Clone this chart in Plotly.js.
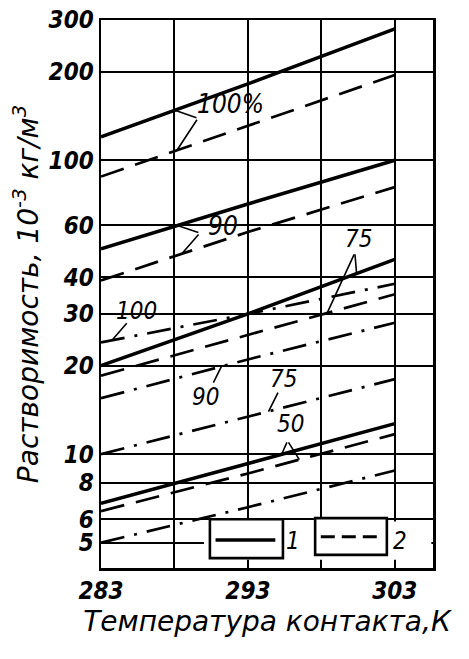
<!DOCTYPE html>
<html>
<head>
<meta charset="utf-8">
<script src="https://cdn.plot.ly/plotly-3.0.1.min.js"></script>
<style>html,body{margin:0;padding:0;background:#fff}#chart{width:469px;height:659px}</style>
</head>
<body>
<div id="chart"></div>
<script>
// Temperature of contact, K
const temps = [283, 293, 303];
// Curve family 1 (solid)
const sol100 = [120, 182, 280];
const sol90  = [50, 71, 100];
const sol75  = [20, 30, 46];
const sol50  = [6.8, 9.3, 12.7];
// Curve family 2 (dashed)
const dsh100 = [88, 131, 195];
const dsh90  = [39, 57, 81];
const dsh75  = [18.5, 25.5, 35];
const dsh50  = [6.4, 8.6, 11.7];
// Dash-dot curves
const dd100 = [24, 30, 38];
const dd90  = [15.5, 21, 28];
const dd75  = [10, 13.4, 18];
const dd50  = [5, 6.6, 8.8];

const xTickVals = [283, 293, 303];
const xTickText = ['283', '293', '303'];
const xMinorVals = [288, 298];
const yTickVals = [5, 6, 8, 10, 20, 30, 40, 60, 100, 200, 300];
const yTickText = ['5', '6', '8', '10', '20', '30', '40', '60', '100', '200', '300'];

const lg = Math.log10;
function onLine(series, t) {
  for (let i = 0; i < temps.length - 1; i++) {
    if (t <= temps[i + 1] || i === temps.length - 2) {
      const f = (t - temps[i]) / (temps[i + 1] - temps[i]);
      return lg(series[i]) + f * (lg(series[i + 1]) - lg(series[i]));
    }
  }
}

const SOLID = {color: 'black', width: 3.5};
const DASH = {color: 'black', width: 2.7, dash: '24px,12px'};
const DDOT = {color: 'black', width: 2.7, dash: '24px,10px,3px,10px'};

function tr(y, line, name) {
  return {x: temps, y: y, mode: 'lines', line: line, name: name, showlegend: false, hoverinfo: 'skip'};
}
const data = [
  tr(sol100, SOLID, '1: 100%'), tr(sol90, SOLID, '1: 90'), tr(sol75, SOLID, '1: 75'), tr(sol50, SOLID, '1: 50'),
  tr(dsh100, DASH, '2: 100%'), tr(dsh90, DASH, '2: 90'), tr(dsh75, DASH, '2: 75'), tr(dsh50, DASH, '2: 50'),
  tr(dd100, DDOT, '100'), tr(dd90, DDOT, '90'), tr(dd75, DDOT, '75'), tr(dd50, DDOT, '50')
];

const labFont = {family: 'DejaVu Sans Condensed', size: 24, color: 'black', style: 'italic'};
function label(t, v, text, size) {
  return {x: t, y: lg(v), xref: 'x', yref: 'y', text: text, showarrow: false,
          xanchor: 'center', yanchor: 'middle',
          font: Object.assign({}, labFont, size ? {size: size} : {})};
}
function ptr(series, t, vt, vv) {
  return {x: t, y: onLine(series, t), xref: 'x', yref: 'y', axref: 'x', ayref: 'y',
          ax: vt, ay: lg(vv), text: '', showarrow: true, arrowhead: 0, arrowwidth: 1.6, arrowcolor: 'black'};
}

const annotations = [
  label(291.8, 155, '100%', 26),
  ptr(sol100, 288.03, 289.6, 139), ptr(dsh100, 288.17, 289.6, 139),
  label(291.3, 59.8, '90', 26),
  ptr(sol90, 288.2, 289.73, 56.6), ptr(dsh90, 288.5, 289.73, 56.6),
  label(300.5, 54, '75'),
  ptr(sol75, 300.4, 300.28, 48.4), ptr(dsh75, 298.4, 300.28, 48.4),
  label(285.45, 30.7, '100'),
  ptr(dd100, 283.75, 284.84, 28.2),
  label(290.1, 15.7, '90'),
  ptr(dd90, 291.2, 290.6, 17.3),
  label(295.4, 18.0, '75'),
  ptr(dd75, 294.4, 295.1, 16.4),
  label(295.9, 12.7, '50'),
  ptr(sol50, 295.3, 295.7, 11.1), ptr(dsh50, 296.5, 295.7, 11.1),
  // legend labels
  {x: 0.577, y: 0.05, xref: 'paper', yref: 'paper', xanchor: 'center', yanchor: 'middle',
   text: '1', showarrow: false, font: labFont},
  {x: 0.9, y: 0.05, xref: 'paper', yref: 'paper', xanchor: 'center', yanchor: 'middle',
   text: '2', showarrow: false, font: labFont}
];

const shapes = [
  // clear area for the legend keys
  {type: 'rect', xref: 'paper', yref: 'paper', x0: 0.31, x1: 0.995, y0: 0.015, y1: 0.085,
   fillcolor: 'white', line: {width: 0}, layer: 'above'},
  // legend key 1
  {type: 'rect', xref: 'paper', yref: 'paper', x0: 0.328, x1: 0.548, y0: 0.018, y1: 0.089,
   fillcolor: 'white', line: {color: 'black', width: 2.6}, layer: 'above'},
  {type: 'line', xref: 'paper', yref: 'paper', x0: 0.345, x1: 0.525, y0: 0.051, y1: 0.051,
   line: {color: 'black', width: 3.4}, layer: 'above'},
  // legend key 2
  {type: 'rect', xref: 'paper', yref: 'paper', x0: 0.645, x1: 0.861, y0: 0.024, y1: 0.091,
   fillcolor: 'white', line: {color: 'black', width: 2.6}, layer: 'above'},
  {type: 'line', xref: 'paper', yref: 'paper', x0: 0.662, x1: 0.848, y0: 0.057, y1: 0.057,
   line: {color: 'black', width: 3, dash: '14px,7px'}, layer: 'above'}
];

const tickFont = {family: 'DejaVu Sans Condensed', size: 24, color: 'black', style: 'italic', weight: 'bold'};
const titleFont = {family: 'DejaVu Sans', size: 28, color: 'black', style: 'italic'};

const layout = {
  width: 469, height: 659,
  margin: {l: 101, r: 36, t: 20, b: 91, pad: 0},
  paper_bgcolor: 'white', plot_bgcolor: 'white',
  showlegend: false,
  xaxis: {
    range: [283, 305.6], tickvals: xTickVals, ticktext: xTickText,
    showgrid: true, gridcolor: 'black', gridwidth: 2,
    minor: {tickvals: xMinorVals, showgrid: true, gridcolor: 'black', gridwidth: 2,
            ticks: 'inside', ticklen: 8, tickwidth: 2, tickcolor: 'black'},
    showline: true, linecolor: 'black', linewidth: 2.5, mirror: true,
    ticks: 'inside', ticklen: 8, tickwidth: 2, tickcolor: 'black',
    tickfont: tickFont, zeroline: false, fixedrange: true,
    title: {text: 'Температура контакта,К', font: titleFont, standoff: 4}
  },
  yaxis: {
    type: 'log', range: [lg(4.1), lg(300)],
    tickvals: yTickVals, ticktext: yTickText,
    showgrid: true, gridcolor: 'black', gridwidth: 2,
    showline: true, linecolor: 'black', linewidth: 2.5, mirror: true,
    ticks: '', tickfont: tickFont, zeroline: false, fixedrange: true,
    title: {text: 'Растворимость, 10<sup>-3</sup> кг/м<sup>3</sup>', font: titleFont, standoff: 2}
  },
  annotations: annotations,
  shapes: shapes
};

Plotly.newPlot('chart', data, layout, {staticPlot: true, displayModeBar: false});
</script>
</body>
</html>
